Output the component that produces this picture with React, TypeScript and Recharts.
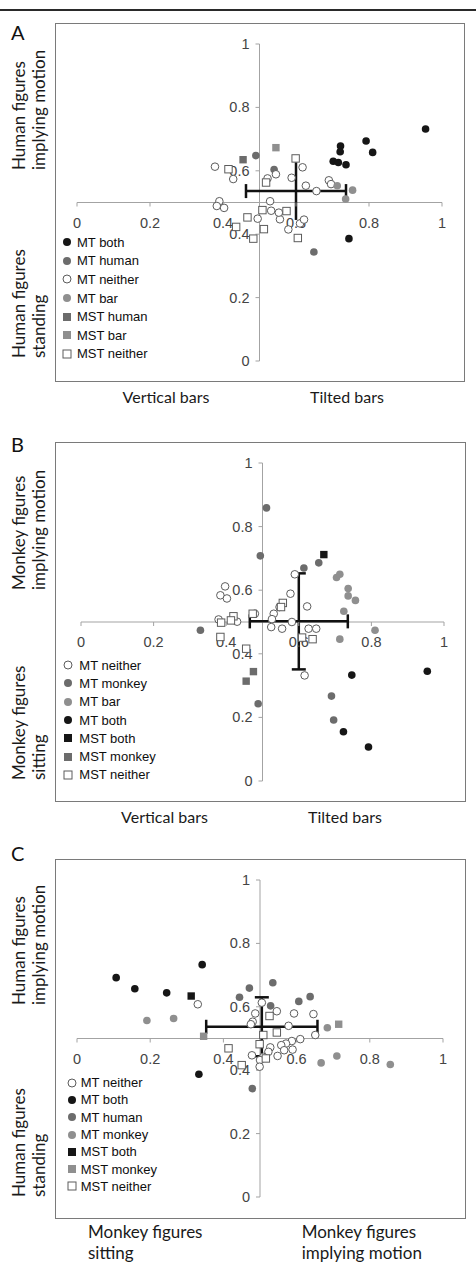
import React from 'react';
import { ScatterChart, Scatter, XAxis, YAxis, ReferenceLine, ErrorBar, Legend } from 'recharts';

type Pt = { x: number; y: number };
const pts = (rows: number[][]): Pt[] => rows.map(([x, y]) => ({ x, y }));

// axis ticks (both axes cross at 0.5)
const tickValues = [0, 0.2, 0.4, 0.6, 0.8, 1];

// ---- A: human figures vs bars ----
const aMtBoth = pts([[0.955, 0.732], [0.792, 0.694], [0.81, 0.658], [0.722, 0.678], [0.721, 0.66], [0.702, 0.63], [0.716, 0.626], [0.737, 0.619], [0.745, 0.386]]);
const aMtHuman = pts([[0.49, 0.648], [0.54, 0.604], [0.649, 0.344]]);
const aMtNeither = pts([[0.378, 0.613], [0.428, 0.574], [0.522, 0.576], [0.545, 0.589], [0.588, 0.578], [0.618, 0.611], [0.627, 0.553], [0.656, 0.536], [0.69, 0.57], [0.696, 0.558], [0.39, 0.504], [0.383, 0.489], [0.403, 0.483], [0.529, 0.504], [0.532, 0.474], [0.495, 0.449], [0.556, 0.447], [0.553, 0.468], [0.579, 0.415], [0.611, 0.434], [0.622, 0.446]]);
const aMtBar = pts([[0.713, 0.553], [0.755, 0.539], [0.736, 0.511]]);
const aMstHuman = pts([[0.455, 0.635]]);
const aMstBar = pts([[0.545, 0.673]]);
const aMstNeither = pts([[0.415, 0.605], [0.599, 0.639], [0.518, 0.563], [0.508, 0.476], [0.574, 0.473], [0.467, 0.453], [0.436, 0.423], [0.512, 0.416], [0.483, 0.386], [0.605, 0.388]]);
const aMean = [{ x: 0.6, y: 0.536, ex: 0.137, ey: 0.091 }];

// ---- B: monkey figures vs bars ----
const bMtNeither = pts([[0.397, 0.612], [0.384, 0.584], [0.402, 0.574], [0.577, 0.589], [0.589, 0.65], [0.623, 0.549], [0.547, 0.547], [0.531, 0.526], [0.526, 0.509], [0.479, 0.526], [0.379, 0.508], [0.43, 0.501], [0.524, 0.484], [0.554, 0.479], [0.581, 0.5], [0.627, 0.479], [0.648, 0.479], [0.616, 0.332]]);
const bMtMonkey = pts([[0.511, 0.859], [0.494, 0.708], [0.614, 0.67], [0.655, 0.686], [0.329, 0.474], [0.488, 0.243], [0.69, 0.267], [0.696, 0.192]]);
const bMtBar = pts([[0.704, 0.64], [0.713, 0.65], [0.736, 0.605], [0.736, 0.582], [0.756, 0.568], [0.724, 0.534], [0.81, 0.474], [0.713, 0.446]]);
const bMtBoth = pts([[0.954, 0.345], [0.746, 0.333], [0.723, 0.155], [0.792, 0.107]]);
const bMstBoth = pts([[0.669, 0.712]]);
const bMstMonkey = pts([[0.455, 0.314], [0.475, 0.344]]);
const bMstNeither = pts([[0.556, 0.56], [0.551, 0.547], [0.473, 0.526], [0.42, 0.518], [0.413, 0.505], [0.386, 0.498], [0.609, 0.451], [0.638, 0.446], [0.384, 0.453], [0.455, 0.416]]);
const bMean = [{ x: 0.6, y: 0.502, ex: 0.135, ey: 0.151 }];

// ---- C: human figures vs monkey figures ----
const cMtNeither = pts([[0.33, 0.608], [0.505, 0.613], [0.546, 0.586], [0.487, 0.579], [0.48, 0.553], [0.475, 0.545], [0.593, 0.579], [0.646, 0.577], [0.578, 0.54], [0.651, 0.511], [0.61, 0.498], [0.587, 0.492], [0.571, 0.484], [0.558, 0.479], [0.589, 0.465], [0.566, 0.463], [0.548, 0.445], [0.528, 0.472], [0.523, 0.458], [0.509, 0.442], [0.478, 0.447], [0.5, 0.432], [0.499, 0.411]]);
const cMtBoth = pts([[0.107, 0.692], [0.158, 0.657], [0.245, 0.644], [0.342, 0.733], [0.333, 0.387]]);
const cMtHuman = pts([[0.444, 0.63], [0.471, 0.659], [0.535, 0.676], [0.529, 0.603], [0.606, 0.617], [0.637, 0.632], [0.479, 0.342]]);
const cMtMonkey = pts([[0.191, 0.557], [0.264, 0.563], [0.684, 0.534], [0.667, 0.423], [0.71, 0.445], [0.856, 0.418]]);
const cMstBoth = pts([[0.312, 0.634]]);
const cMstMonkey = pts([[0.715, 0.545], [0.346, 0.507]]);
const cMstNeither = pts([[0.526, 0.571], [0.509, 0.511], [0.546, 0.519], [0.414, 0.469], [0.499, 0.482], [0.516, 0.437], [0.45, 0.416]]);
const cMean = [{ x: 0.505, y: 0.537, ex: 0.152, ey: 0.093 }];

const BLACK = '#161616';
const DARK = '#6c6c6c';
const MID = '#8f8f8f';
const OPEN = '#5c5c5c';
const AXIS = '#a3a3a3';
const TITLE_FONT = 'Lato, "Open Sans", sans-serif';
const TICK_FONT = '"Liberation Sans", Arial, sans-serif';

interface Series {
  name: string;
  data: Pt[];
  marker: 'circle' | 'square';
  fill: string;
  stroke?: string;
}

const circ = (name: string, data: Pt[], fill: string): Series => ({ name, data, marker: 'circle', fill });
const sq = (name: string, data: Pt[], fill: string): Series => ({ name, data, marker: 'square', fill });
const openCirc = (name: string, data: Pt[]): Series => ({ name, data, marker: 'circle', fill: '#fff', stroke: OPEN });
const openSq = (name: string, data: Pt[]): Series => ({ name, data, marker: 'square', fill: '#fff', stroke: OPEN });

const seriesA = [
  circ('MT both', aMtBoth, BLACK),
  circ('MT human', aMtHuman, DARK),
  openCirc('MT neither', aMtNeither),
  circ('MT bar', aMtBar, MID),
  sq('MST human', aMstHuman, DARK),
  sq('MST bar', aMstBar, MID),
  openSq('MST neither', aMstNeither),
];

const seriesB = [
  openCirc('MT neither', bMtNeither),
  circ('MT monkey', bMtMonkey, DARK),
  circ('MT bar', bMtBar, MID),
  circ('MT both', bMtBoth, BLACK),
  sq('MST both', bMstBoth, BLACK),
  sq('MST monkey', bMstMonkey, DARK),
  openSq('MST neither', bMstNeither),
];

const seriesC = [
  openCirc('MT neither', cMtNeither),
  circ('MT both', cMtBoth, BLACK),
  circ('MT human', cMtHuman, DARK),
  circ('MT monkey', cMtMonkey, MID),
  sq('MST both', cMstBoth, BLACK),
  sq('MST monkey', cMstMonkey, MID),
  openSq('MST neither', cMstNeither),
];

const xTickPts = tickValues.map(v => ({ x: v, y: 0.5 }));
const yTickPts = tickValues.map(v => ({ x: 0.5, y: v }));
const fmt = (v: number) => String(v);

const XTick = (p: any) => (
  <g>
    <line x1={p.cx} y1={p.cy} x2={p.cx} y2={p.cy + 4} stroke={AXIS} />
    <text x={p.cx} y={p.cy + 25} textAnchor="middle" fontFamily={TICK_FONT} fontSize={14.5} fill="#444">
      {fmt(p.payload.x)}
    </text>
  </g>
);

const YTick = (p: any) => (
  <g>
    <line x1={p.cx - 4} y1={p.cy} x2={p.cx} y2={p.cy} stroke={AXIS} />
    <text x={p.cx - 10} y={p.cy + 5} textAnchor="end" fontFamily={TICK_FONT} fontSize={14.5} fill="#444">
      {fmt(p.payload.y)}
    </text>
  </g>
);

const drawMarker = (s: Series) => (p: any) =>
  s.marker === 'square' ? (
    <rect x={p.cx - 3.7} y={p.cy - 3.7} width={7.4} height={7.4} fill={s.fill} stroke={s.stroke ?? 'none'} />
  ) : (
    <circle cx={p.cx} cy={p.cy} r={3.8} fill={s.fill} stroke={s.stroke ?? 'none'} />
  );

const LegendMarker = ({ s }: { s: Series }) => (
  <svg width={10} height={10} style={{ display: 'block', flex: 'none' }}>
    {s.marker === 'square' ? (
      <rect x={1} y={1} width={8} height={8} fill={s.fill} stroke={s.stroke ?? 'none'} />
    ) : (
      <circle cx={5} cy={5} r={4} fill={s.fill} stroke={s.stroke ?? 'none'} />
    )}
  </svg>
);

interface PanelCfg {
  left: number;
  top: number;
  width: number;
  height: number;
  margin: { top: number; right: number; bottom: number; left: number };
  series: Series[];
  mean: { x: number; y: number; ex: number; ey: number }[];
  capY: number;
  legend: { left: number; top: number; row: number; gap: number };
}

const Panel = ({ cfg }: { cfg: PanelCfg }) => (
  <>
    <div
      style={{
        position: 'absolute', left: cfg.left, top: cfg.top, width: cfg.width, height: cfg.height,
        border: '1px solid #7a7a7a', boxSizing: 'border-box',
      }}
    />
    <div style={{ position: 'absolute', left: cfg.left, top: cfg.top }}>
      <ScatterChart width={cfg.width} height={cfg.height} margin={cfg.margin}>
        <XAxis type="number" dataKey="x" domain={[0, 1]} hide />
        <YAxis type="number" dataKey="y" domain={[0, 1]} hide />
        <ReferenceLine x={0.5} stroke={AXIS} />
        <ReferenceLine y={0.5} stroke={AXIS} />
        <Scatter data={xTickPts} shape={XTick} isAnimationActive={false} legendType="none" />
        <Scatter data={yTickPts} shape={YTick} isAnimationActive={false} legendType="none" />
        <Scatter data={cfg.mean} shape={() => <g />} isAnimationActive={false} legendType="none">
          <ErrorBar dataKey="ex" direction="x" width={7} stroke="#111" strokeWidth={2.5} />
          <ErrorBar dataKey="ey" direction="y" width={cfg.capY} stroke="#111" strokeWidth={2.5} />
        </Scatter>
        {cfg.series.map(s => (
          <Scatter key={s.name} name={s.name} data={s.data} shape={drawMarker(s)} isAnimationActive={false} />
        ))}
        <Legend
          layout="vertical"
          align="center"
          verticalAlign="middle"
          wrapperStyle={{ left: cfg.legend.left, top: cfg.legend.top, width: 'auto' }}
          content={() => (
            <div style={{ fontFamily: TICK_FONT, fontSize: 13, color: '#0e0e0e' }}>
              {cfg.series.map(s => (
                <div key={s.name} style={{ height: cfg.legend.row, display: 'flex', alignItems: 'center', whiteSpace: 'nowrap' }}>
                  <LegendMarker s={s} />
                  <span style={{ marginLeft: cfg.legend.gap }}>{s.name}</span>
                </div>
              ))}
            </div>
          )}
        />
      </ScatterChart>
    </div>
  </>
);

const panelA: PanelCfg = {
  left: 55, top: 23, width: 410, height: 359,
  margin: { top: 21, right: 23, bottom: 21, left: 22 },
  series: seriesA, mean: aMean, capY: 0,
  legend: { left: 6.7, top: 210, row: 18.6, gap: 5.3 },
};

const panelB: PanelCfg = {
  left: 55, top: 442, width: 411, height: 360,
  margin: { top: 21, right: 22, bottom: 21, left: 26 },
  series: seriesB, mean: bMean, capY: 7,
  legend: { left: 8.3, top: 214, row: 18.3, gap: 6 },
};

const panelC: PanelCfg = {
  left: 55, top: 859, width: 411, height: 360,
  margin: { top: 21, right: 23, bottom: 22, left: 22 },
  series: seriesC, mean: cMean, capY: 7,
  legend: { left: 11.7, top: 215, row: 17.3, gap: 4 },
};

const RotTitle = ({ x, y, lines }: { x: number; y: number; lines: string[] }) => (
  <text transform={`translate(${x},${y}) rotate(-90)`} fontFamily={TITLE_FONT} fontSize={17} fill="#1a1a1a">
    {lines.map((l, i) => (
      <tspan key={l} x={0} y={i * 19.5}>{l}</tspan>
    ))}
  </text>
);

const Title = ({ x, y, text, anchor = 'middle', size = 16 }: { x: number; y: number; text: string; anchor?: string; size?: number }) => (
  <text x={x} y={y} textAnchor={anchor as any} fontFamily={TITLE_FONT} fontSize={size} fill="#1a1a1a">
    {text}
  </text>
);

const Letter = ({ x, y, t }: { x: number; y: number; t: string }) => (
  <text x={x} y={y} fontFamily={TITLE_FONT} fontSize={20} fill="#111">{t}</text>
);

export default function App() {
  return (
    <div style={{ position: 'absolute', left: 0, top: 0, width: 476, height: 1270, background: '#fff' }}>
      <div style={{ position: 'absolute', left: 0, top: 9, width: 476, height: 1.5, background: '#2a2a2a' }} />
      <Panel cfg={panelA} />
      <Panel cfg={panelB} />
      <Panel cfg={panelC} />
      <svg width={476} height={1270} style={{ position: 'absolute', left: 0, top: 0, pointerEvents: 'none' }}>
        <Letter x={11} y={40} t="A" />
        <RotTitle x={25} y={170} lines={['Human figures', 'implying motion']} />
        <RotTitle x={25} y={358} lines={['Human figures', 'standing']} />
        <Title x={166} y={403} text="Vertical bars" />
        <Title x={347} y={403} text="Tilted bars" />

        <Letter x={11} y={452} t="B" />
        <RotTitle x={25} y={590} lines={['Monkey figures', 'implying motion']} />
        <RotTitle x={25} y={780} lines={['Monkey figures', 'sitting']} />
        <Title x={164.5} y={823} text="Vertical bars" />
        <Title x={345} y={823} text="Tilted bars" />

        <Letter x={11} y={861} t="C" />
        <RotTitle x={25} y={1005} lines={['Human figures', 'implying motion']} />
        <RotTitle x={25} y={1197} lines={['Human figures', 'standing']} />
        <Title x={88} y={1238} text="Monkey figures" anchor="start" size={17} />
        <Title x={88} y={1259} text="sitting" anchor="start" size={17} />
        <Title x={301.7} y={1238} text="Monkey figures" anchor="start" size={17} />
        <Title x={301.7} y={1259} text="implying motion" anchor="start" size={17} />
      </svg>
    </div>
  );
}
